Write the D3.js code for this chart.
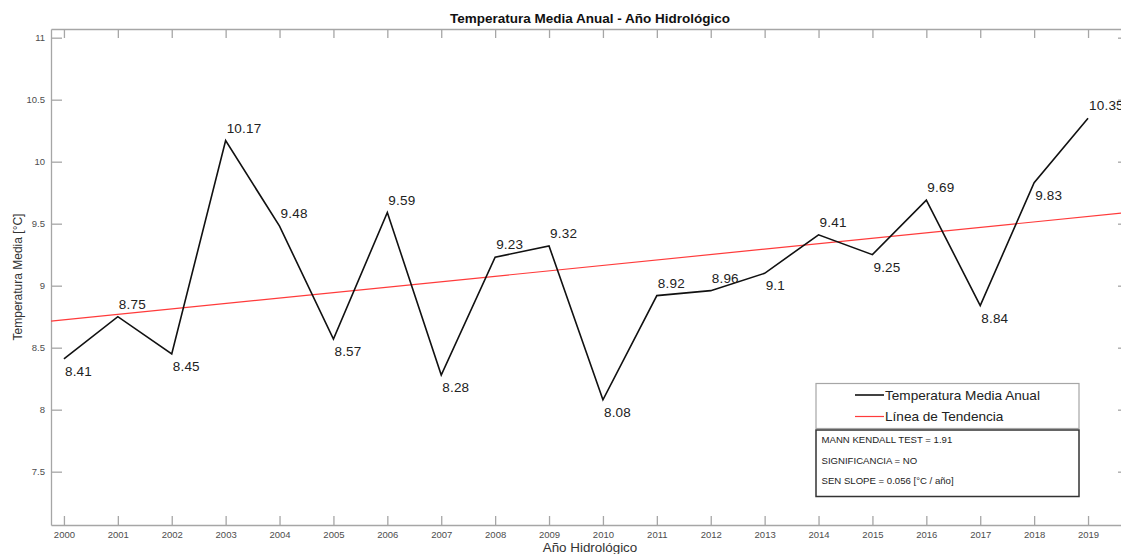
<!DOCTYPE html>
<html>
<head>
<meta charset="utf-8">
<script src="https://cdn.jsdelivr.net/npm/d3@7"></script>
<style>
  html, body { margin: 0; padding: 0; background: #fff; }
  svg { display: block; font-family: "Liberation Sans", Arial, Helvetica, sans-serif; }
</style>
</head>
<body>
<svg id="chart" width="1121" height="554"></svg>
<script>
// Annual mean temperature per hydrological year
const years = [2000, 2001, 2002, 2003, 2004, 2005, 2006, 2007, 2008, 2009,
               2010, 2011, 2012, 2013, 2014, 2015, 2016, 2017, 2018, 2019];
const tempMedia = [8.41, 8.75, 8.45, 10.17, 9.48, 8.57, 9.59, 8.28, 9.23, 9.32,
                   8.08, 8.92, 8.96, 9.1, 9.41, 9.25, 9.69, 8.84, 9.83, 10.35];
const valueLabels = ["8.41", "8.75", "8.45", "10.17", "9.48", "8.57", "9.59", "8.28", "9.23", "9.32",
                     "8.08", "8.92", "8.96", "9.1", "9.41", "9.25", "9.69", "8.84", "9.83", "10.35"];

// Trend line: fitted values at the first and last year
const trendYears = [2000, 2019];
const trendValues = [8.725, 9.558];

const yTicks = [7.5, 8, 8.5, 9, 9.5, 10, 10.5, 11];
const yTickLabels = ["7.5", "8", "8.5", "9", "9.5", "10", "10.5", "11"];

const legendLabels = ["Temperatura Media Anual", "Línea de Tendencia"];
const statsLines = ["MANN KENDALL TEST = 1.91", "SIGNIFICANCIA = NO", "SEN SLOPE = 0.056 [°C / año]"];

// Years whose value label sits under the point
const labelsBelow = new Set([2000, 2002, 2005, 2007, 2010, 2013, 2015, 2017, 2018]);

const svg = d3.select("#chart");
const plot = { left: 51, right: 1129, top: 29, bottom: 525 };

const x = d3.scaleLinear().domain([1999.76, 2019.76]).range([plot.left, plot.right]);
const y = d3.scaleLinear().domain([7.07, 11.07]).range([plot.bottom, plot.top]);

const axisColor = "#a6a6a6";
const tickTextColor = "#4d4d4d";

// Axes (box style, ticks inward)
const xAxisB = d3.axisBottom(x).tickValues(years).tickFormat(d3.format("d")).tickSizeInner(-9).tickSizeOuter(0).tickPadding(6);
const xAxisT = d3.axisTop(x).tickValues(years).tickFormat("").tickSizeInner(-9).tickSizeOuter(0);
const yAxisL = d3.axisLeft(y).tickValues(yTicks).tickFormat((d, i) => yTickLabels[i]).tickSizeInner(-11).tickSizeOuter(0).tickPadding(6);
const yAxisR = d3.axisRight(y).tickValues(yTicks).tickFormat("").tickSizeInner(-11).tickSizeOuter(0);

function styleAxis(g) {
  g.select(".domain").attr("stroke", axisColor).attr("stroke-width", 1.3);
  g.selectAll(".tick line").attr("stroke", axisColor).attr("stroke-width", 1.3);
  g.selectAll(".tick text").attr("fill", tickTextColor).style("font-size", "9.5px")
    .style("font-family", "'Liberation Sans', Arial, sans-serif");
}

svg.append("g").attr("transform", `translate(0,${plot.bottom})`).call(xAxisB).call(styleAxis);
svg.append("g").attr("transform", `translate(0,${plot.top})`).call(xAxisT).call(styleAxis);
svg.append("g").attr("transform", `translate(${plot.left},0)`).call(yAxisL).call(styleAxis);
svg.append("g").attr("transform", `translate(${plot.right},0)`).call(yAxisR).call(styleAxis);

// Trend line spanning the full x range
const trendSlope = (trendValues[1] - trendValues[0]) / (trendYears[1] - trendYears[0]);
const xd = x.domain();
const trendEnds = xd.map(t => ({ t, v: trendValues[0] + trendSlope * (t - trendYears[0]) }));

svg.append("path")
  .datum(trendEnds)
  .attr("fill", "none")
  .attr("stroke", "#ff3b3b")
  .attr("stroke-width", 1.2)
  .attr("d", d3.line().x(d => x(d.t)).y(d => y(d.v)));

// Temperature series
const series = years.map((yr, i) => ({ yr, v: tempMedia[i], label: valueLabels[i] }));

svg.append("path")
  .datum(series)
  .attr("fill", "none")
  .attr("stroke", "#111")
  .attr("stroke-width", 1.6)
  .attr("stroke-linejoin", "miter")
  .attr("d", d3.line().x(d => x(d.yr)).y(d => y(d.v)));

// Value labels
svg.append("g").selectAll("text")
  .data(series)
  .join("text")
  .attr("x", d => x(d.yr) + 1)
  .attr("y", d => y(d.v) + (labelsBelow.has(d.yr) ? 17 : -8))
  .attr("fill", "#222")
  .style("font-size", "13.5px")
  .style("letter-spacing", "0.2px")
  .text(d => d.label);

// Title and axis labels
svg.append("text")
  .attr("x", (plot.left + plot.right) / 2).attr("y", 22.5)
  .attr("text-anchor", "middle")
  .attr("fill", "#111")
  .style("font-size", "13.5px").style("font-weight", "bold")
  .text("Temperatura Media Anual - Año Hidrológico");

svg.append("text")
  .attr("x", (plot.left + plot.right) / 2).attr("y", 552)
  .attr("text-anchor", "middle")
  .attr("fill", "#333")
  .style("font-size", "13.4px")
  .text("Año Hidrológico");

svg.append("text")
  .attr("transform", `translate(22,${(plot.top + plot.bottom) / 2}) rotate(-90)`)
  .attr("text-anchor", "middle")
  .attr("fill", "#333")
  .style("font-size", "12px")
  .text("Temperatura Media [°C]");

// Legend
const lg = svg.append("g");
lg.append("rect")
  .attr("x", 816).attr("y", 383.5).attr("width", 263).attr("height", 45)
  .attr("fill", "#fff").attr("stroke", "#a6a6a6").attr("stroke-width", 1.2);

const legendColors = ["#111", "#ff3b3b"];
const legendRows = [395, 416.5];
legendLabels.forEach((lab, i) => {
  lg.append("line")
    .attr("x1", 855).attr("x2", 884)
    .attr("y1", legendRows[i]).attr("y2", legendRows[i])
    .attr("stroke", legendColors[i]).attr("stroke-width", i === 0 ? 1.6 : 1.2);
  lg.append("text")
    .attr("x", 885).attr("y", legendRows[i] + 4.8)
    .attr("fill", "#222")
    .style("font-size", "13.6px")
    .text(lab);
});

// Statistics box
const sb = svg.append("g");
sb.append("rect")
  .attr("x", 816).attr("y", 430).attr("width", 263).attr("height", 66.5)
  .attr("fill", "#fff").attr("stroke", "#333").attr("stroke-width", 1.5);
statsLines.forEach((s, i) => {
  sb.append("text")
    .attr("x", 821.5).attr("y", 442.8 + i * 20.7)
    .attr("fill", "#222")
    .style("font-size", "9.6px")
    .text(s);
});
</script>
</body>
</html>
